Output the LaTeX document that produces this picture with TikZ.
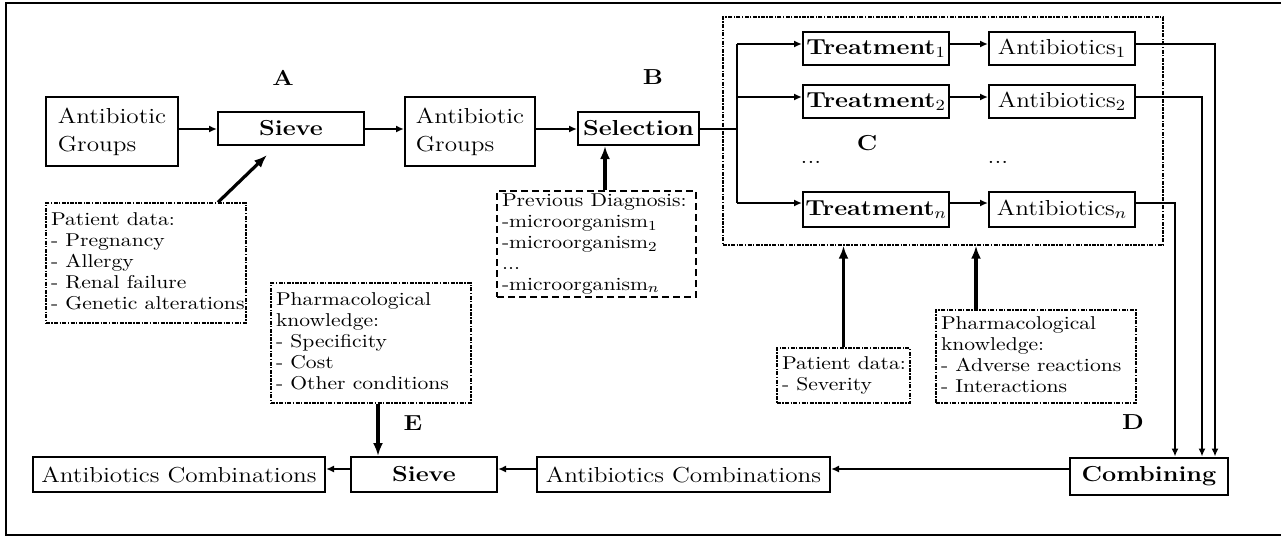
\documentclass[tikz,border=0pt]{standalone}
\usepackage{fontspec}
\usepackage{graphicx}
\usetikzlibrary{arrows.meta,calc}
\newcommand\vsq[1]{\scalebox{1}[0.86]{#1}}
\newcommand\nodefont{\fontsize{12.6}{16.3}\selectfont}
\newcommand\smallfont{\fontsize{10.8}{12.2}\selectfont}
\tikzset{
  box/.style={draw, line width=1pt, inner sep=0pt, font=\nodefont},
  info/.style={draw, line width=0.7pt, dash pattern=on 2pt off 0.7pt on 0.7pt off 0.7pt,
     inner xsep=2.5pt, inner ysep=0pt, font=\smallfont, align=left},
  dashbox/.style={draw, line width=0.9pt, dash pattern=on 3.5pt off 2pt,
     inner xsep=2.5pt, inner ysep=0pt, font=\smallfont, align=left},
  lab/.style={font=\nodefont\bfseries, inner sep=0pt},
  conn/.style={line width=1pt, -{Latex[length=4pt,width=3.5pt]}},
  feed/.style={line width=1.6pt, -{Latex[length=6.5pt,width=5pt]}},
  plain/.style={line width=1pt},
}
\begin{document}
\begin{tikzpicture}[x=0.5pt,y=-0.5pt]
\useasboundingbox (0,0) rectangle (1281,536);
% frame
\draw[line width=1pt] (1285,3) -- (6,3) -- (6,535) -- (1285,535);

% group C dotted box
\node[info, minimum width=220pt, minimum height=114pt, inner sep=0pt] (cbox) at (943,131) {};

% top row
\node[box, minimum width=66pt, minimum height=34.5pt] (ag1) at (112,131.5)
  {\vsq{\begin{tabular}{@{}l@{}}Antibiotic\\Groups\end{tabular}}};
\node[box, minimum width=73pt, minimum height=16.5pt] (sieveA) at (291,128.5) {\vsq{\bfseries Sieve}};
\node[box, minimum width=65pt, minimum height=34.5pt] (ag2) at (470,131.5)
  {\vsq{\begin{tabular}{@{}l@{}}Antibiotic\\Groups\end{tabular}}};
\node[box, minimum width=60.5pt, minimum height=16.5pt] (sel) at (638.5,128.5) {\vsq{\bfseries Selection}};

\node[lab] (labA) at (283,78) {\vsq{A}};
\node[lab] (labB) at (653,77) {\vsq{B}};
\node[lab] (labC) at (867,143) {\vsq{C}};
\node[lab] (labD) at (1133,422) {\vsq{D}};
\node[lab] (labE) at (413,423) {\vsq{E}};

% info boxes
\node[info, text width=95pt, minimum height=60pt] (patA) at (146,263)
  {\vsq{\begin{tabular}{@{}l@{}}Patient data:\\- Pregnancy\\- Allergy\\- Renal failure\\- Genetic alterations\end{tabular}}};
\node[dashbox, text width=94.5pt, minimum height=53pt] (prev) at (596.5,244)
  {\vsq{\begin{tabular}{@{}l@{}}Previous Diagnosis:\\-microorganism$_1$\\-microorganism$_2$\\...\\-microorganism$_n$\end{tabular}}};
\node[info, text width=95pt, minimum height=60pt] (pharmE) at (371,343)
  {\vsq{\begin{tabular}{@{}l@{}}Pharmacological\\knowledge:\\- Specificity\\- Cost\\- Other conditions\end{tabular}}};
\node[info, text width=61.5pt, minimum height=27.5pt] (sev) at (843.5,375.5)
  {\vsq{\begin{tabular}{@{}l@{}}Patient data:\\- Severity\end{tabular}}};
\node[info, text width=95pt, minimum height=46.5pt] (pharmD) at (1036,356.5)
  {\vsq{\begin{tabular}{@{}l@{}}Pharmacological\\knowledge:\\- Adverse reactions\\- Interactions\end{tabular}}};

% treatments
\node[box, minimum width=73pt, minimum height=16.5pt] (t1) at (876,48.5) {\vsq{\textbf{Treatment}$_1$}};
\node[box, minimum width=73pt, minimum height=16.5pt] (t2) at (876,101.5) {\vsq{\textbf{Treatment}$_2$}};
\node[box, minimum width=73pt, minimum height=17.5pt] (tn) at (876,209.5) {\vsq{\textbf{Treatment}$_n$}};
\node[box, minimum width=73pt, minimum height=16.5pt] (ab1) at (1062,48.5) {\vsq{Antibiotics$_1$}};
\node[box, minimum width=73pt, minimum height=16.5pt] (ab2) at (1062,101.5) {\vsq{Antibiotics$_2$}};
\node[box, minimum width=73pt, minimum height=17.5pt] (abn) at (1062,209.5) {\vsq{Antibiotics$_n$}};
\node[inner sep=0pt, font=\nodefont] (dots1) at (811,162) {\vsq{...}};
\node[inner sep=0pt, font=\nodefont] (dots2) at (998,162) {\vsq{...}};

% bottom row
\node[box, minimum width=146pt, minimum height=17.5pt] (abcL) at (179,474.5) {\vsq{Antibiotics Combinations}};
\node[box, minimum width=73pt, minimum height=17.5pt] (sieveE) at (424,474.5) {\vsq{\bfseries Sieve}};
\node[box, minimum width=146.5pt, minimum height=17.5pt] (abcM) at (683.5,474.5) {\vsq{Antibiotics Combinations}};
\node[box, minimum width=79pt, minimum height=18.5pt] (comb) at (1149,476) {\vsq{\bfseries Combining}};

% helper coordinates
\coordinate (ty) at (0,129);
\coordinate (by) at (0,469);
\coordinate (b1) at (737,44);
\coordinate (b2) at (737,97);
\coordinate (bn) at (737,203);
\coordinate (br) at (737,128.5);
\coordinate (x1) at (1215,0);
\coordinate (x2) at (1202,0);
\coordinate (xn) at (1175,0);
\coordinate (px) at (605,0);
\coordinate (dx) at (976,0);
\coordinate (ex) at (378,0);
\coordinate (pa) at (218,0);
\coordinate (paend) at (267,155);

% top row connectors
\draw[conn] (ag1.east |- ty) -- (sieveA.west |- ty);
\draw[conn] (sieveA.east |- ty) -- (ag2.west |- ty);
\draw[conn] (ag2.east |- ty) -- (sel.west |- ty);
\draw[plain] (sel.east) -- (br);
\draw[plain] (b1) -- (bn);
\draw[conn] (b1) -- (t1.west |- b1);
\draw[conn] (b2) -- (t2.west |- b2);
\draw[conn] (bn) -- (tn.west |- bn);
\draw[conn] (t1.east |- b1) -- (ab1.west |- b1);
\draw[conn] (t2.east |- b2) -- (ab2.west |- b2);
\draw[conn] (tn.east |- bn) -- (abn.west |- bn);
\draw[conn] (ab1.east |- b1) -| (comb.north -| x1);
\draw[conn] (ab2.east |- b2) -| (comb.north -| x2);
\draw[conn] (abn.east |- bn) -| (comb.north -| xn);

% feeding arrows
\draw[feed] (patA.north -| pa) -- (paend);
\draw[feed] (prev.north -| px) -- (sel.south -| px);
\draw[feed] (sev.north) -- (sev.north |- cbox.south);
\draw[feed] (pharmD.north -| dx) -- (cbox.south -| dx);
\draw[feed] (pharmE.south -| ex) -- (sieveE.north -| ex);

% bottom row connectors
\draw[conn] (comb.west |- by) -- (abcM.east |- by);
\draw[conn] (abcM.west |- by) -- (sieveE.east |- by);
\draw[conn] (sieveE.west |- by) -- (abcL.east |- by);
\end{tikzpicture}
\end{document}
